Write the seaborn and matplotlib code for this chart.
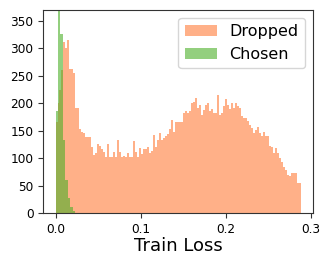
import numpy as np
import pandas as pd
import matplotlib
matplotlib.use("Agg")
import matplotlib.pyplot as plt
import seaborn as sns

# bin counts
dropped_counts = [166, 200, 224, 260, 311, 300, 315, 263, 262, 254,
                  191, 191, 154, 148, 145, 139, 139, 139, 121, 106,
                  110, 126, 122, 116, 112, 103, 126, 103, 102, 112,
                  103, 133, 112, 103, 104, 103, 110, 103, 103, 132,
                  112, 103, 118, 108, 116, 117, 120, 110, 114, 142,
                  121, 134, 145, 133, 136, 141, 144, 153, 170, 148,
                  165, 165, 165, 165, 182, 185, 182, 185, 200, 203,
                  210, 191, 197, 179, 188, 197, 201, 185, 189, 182,
                  182, 215, 179, 182, 194, 207, 197, 189, 200, 191,
                  200, 195, 191, 176, 174, 174, 168, 160, 155, 145,
                  152, 157, 145, 141, 148, 141, 140, 122, 121, 109,
                  118, 109, 100, 94, 85, 79, 70, 68, 73, 74,
                  74, 55, 55]
chosen_counts = [185, 420, 325, 133, 60, 28, 12, 5]

dropped_width = 0.002344
chosen_width = 0.00293

d_edges = (np.arange(len(dropped_counts) + 1) * dropped_width).tolist()
c_edges = (np.arange(len(chosen_counts) + 1) * chosen_width).tolist()
df_d = pd.DataFrame({"loss": np.arange(len(dropped_counts)) * dropped_width + dropped_width / 2,
                     "n": dropped_counts})
df_c = pd.DataFrame({"loss": np.arange(len(chosen_counts)) * chosen_width + chosen_width / 2,
                     "n": chosen_counts})

sns.set_style("ticks", {"axes.edgecolor": "0.2", "text.color": "black",
                        "xtick.color": "0.2", "ytick.color": "0.2",
                        "axes.labelcolor": "black"})
plt.rcParams["font.family"] = ["DejaVu Sans"]

fig = plt.figure(figsize=(3.32, 2.66), dpi=100)
ax = fig.add_axes([0.13, 0.198, 0.813, 0.766])

sns.histplot(data=df_d, x="loss", weights="n", bins=d_edges, color="#FF7C39",
             alpha=0.6, linewidth=0, label="Dropped", ax=ax)
sns.histplot(data=df_c, x="loss", weights="n", bins=c_edges, color="#4CAF28",
             alpha=0.6, linewidth=0, label="Chosen", ax=ax)

ax.set_ylim(0, 370)
ax.set_xlim(-0.0145, 0.3025)
ax.set_xticks([0.0, 0.1, 0.2, 0.3])
ax.set_yticks(range(0, 351, 50))
ax.tick_params(labelsize=8.7, length=3.5, pad=3.5, labelcolor="black")
ax.set_ylabel("")
ax.set_xlabel("Train Loss", fontsize=13, labelpad=1)
ax.legend(fontsize=11.5, loc="upper right")

fig.savefig("out.png", dpi=100)
